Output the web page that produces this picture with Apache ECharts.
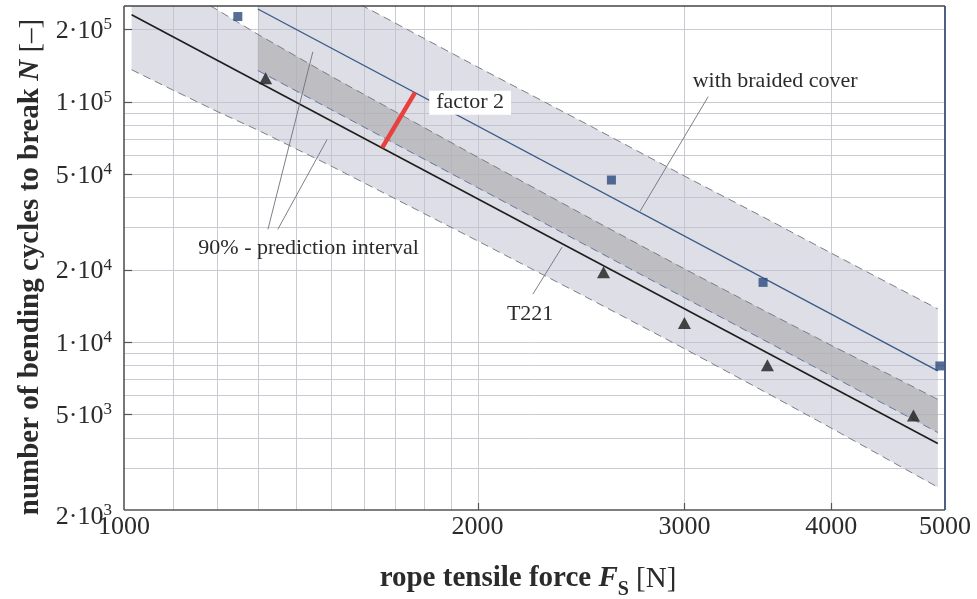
<!DOCTYPE html>
<html>
<head>
<meta charset="utf-8">
<script src="https://cdn.jsdelivr.net/npm/echarts@6/dist/echarts.min.js"></script>
<style>
  html, body { margin: 0; padding: 0; background: #fff; }
  #chart { width: 977px; height: 599px; }
</style>
</head>
<body>
<div id="chart"></div>
<script>
// measured points
const t221Force = [1320, 2560, 3000, 3530, 4700];
const t221Cycles = [125000, 19500, 12000, 8000, 4950];
const coverForce = [1250, 2600, 3500, 4950];
const coverCycles = [226000, 47200, 17700, 7950];

// fitted lines (end points)
const t221Fit = [[1015, 230000], [4930, 3780]];
const coverFit = [[1300, 243000], [4930, 7580]];

// 90% prediction interval, T221
const t221BandX = [1015, 1100, 1200, 1300, 1500, 2000, 2500, 3000, 3500, 4000, 4500, 4930];
const t221Upper = [388200, 308200, 241300, 190600, 127700, 58800, 32480, 20150, 13580, 9690, 7250, 5770];
const t221Lower = [135800, 111900, 91070, 76150, 54050, 26350, 14980, 9380, 6260, 4385, 3187, 2490];

// 90% prediction interval, with braided cover
const coverBandX = [1300, 1500, 2000, 2500, 3000, 3500, 4000, 4930];
const coverUpper = [432200, 294900, 139400, 78800, 49030, 33140, 23430, 13730];
const coverLower = [134800, 92830, 43880, 24580, 15290, 10230, 7235, 4200];

// "factor 2" marker
const factorLine = [[1659, 64400], [1769, 109000]];

// axes
const xTicks = [1000, 2000, 3000, 4000, 5000];
const yTicks = [2000, 5000, 10000, 20000, 50000, 100000, 200000];
const xGrid = [1100, 1200, 1300, 1400, 1500, 1600, 1700, 1800, 1900, 2000, 3000, 4000];
const yGrid = [3000, 4000, 5000, 6000, 7000, 8000, 9000,
  10000, 20000, 30000, 40000, 50000, 60000, 70000, 80000, 90000, 100000, 200000];

// annotations
const noteText = ['with braided cover', '90% - prediction interval', 'T221', 'factor 2'];
const noteAt = [[3584, 121100], [1436, 24550], [2217, 13070], [1971, 99050]];
const leaders = [
  [[3143, 104900], [2750, 34970]],
  [[1326, 29430], [1448, 161200]],
  [[1352, 29430], [1489, 69560]],
  [[2229, 15820], [2360, 24790]]
];

const X_MIN = 1000, X_MAX = 5000, Y_MIN = 2000, Y_MAX = 250000;
const FONT = '"Liberation Serif", "Times New Roman", serif';
const TXT = '#2b2b2b';

const pairs = (xs, ys) => xs.map((x, i) => [x, ys[i]]);
const px = v => Math.round(v) + 0.5;

// where the two intervals overlap: top = T221 upper, bottom = cover lower
const overlapUpper = coverBandX.map(x => t221Upper[t221BandX.indexOf(x)]);

function rectOf(cs) {
  return { x: cs.x, y: cs.y, width: cs.width, height: cs.height };
}

function renderGrid(params, api) {
  const cs = params.coordSys;
  const els = [];
  xGrid.forEach(v => {
    const x = px(api.coord([v, Y_MIN])[0]);
    els.push({ type: 'line', shape: { x1: x, y1: cs.y, x2: x, y2: cs.y + cs.height },
      style: { stroke: '#c9cad2', lineWidth: 1 } });
  });
  yGrid.forEach(v => {
    const y = px(api.coord([X_MIN, v])[1]);
    els.push({ type: 'line', shape: { x1: cs.x, y1: y, x2: cs.x + cs.width, y2: y },
      style: { stroke: '#c9cad2', lineWidth: 1 } });
  });
  return { type: 'group', children: els };
}

function renderBand(xs, ups, lows, fill) {
  return function (params, api) {
    const pts = xs.map((x, i) => api.coord([x, ups[i]]));
    for (let i = xs.length - 1; i >= 0; i--) pts.push(api.coord([xs[i], lows[i]]));
    return {
      type: 'polygon',
      shape: { points: pts },
      style: { fill: fill },
      clipPath: { type: 'rect', shape: rectOf(params.coordSys) }
    };
  };
}

function renderFrame(params, api) {
  const cs = params.coordSys;
  const l = cs.x, r = cs.x + cs.width, t = cs.y, b = cs.y + cs.height;
  const els = [];
  // inner ticks
  xTicks.slice(1, -1).forEach(v => {
    const x = px(api.coord([v, Y_MIN])[0]);
    els.push({ type: 'line', shape: { x1: x, y1: b, x2: x, y2: b - 7 }, style: { stroke: '#555', lineWidth: 1.2 } });
  });
  yTicks.slice(1).forEach(v => {
    const y = px(api.coord([X_MIN, v])[1]);
    els.push({ type: 'line', shape: { x1: l, y1: y, x2: l + 8, y2: y }, style: { stroke: '#555', lineWidth: 1.2 } });
  });
  els.push({ type: 'line', shape: { x1: l, y1: t, x2: r, y2: t }, style: { stroke: '#444', lineWidth: 1.6 } });
  els.push({ type: 'line', shape: { x1: r, y1: t, x2: r, y2: b }, style: { stroke: '#3c4f78', lineWidth: 1.8 } });
  els.push({ type: 'line', shape: { x1: l, y1: b, x2: r, y2: b }, style: { stroke: '#555', lineWidth: 1.6 } });
  els.push({ type: 'line', shape: { x1: l, y1: t, x2: l, y2: b }, style: { stroke: '#555', lineWidth: 1.6 } });

  // tick labels
  xTicks.forEach(v => {
    const p = api.coord([v, Y_MIN]);
    els.push({ type: 'text', x: p[0], y: b + 17,
      style: { text: String(v), fontFamily: FONT, fontSize: 26, fill: TXT, align: 'center', verticalAlign: 'middle' } });
  });
  yTicks.forEach(v => {
    const e = Math.floor(Math.log10(v) + 1e-9);
    const m = Math.round(v / Math.pow(10, e));
    const p = api.coord([X_MIN, v]);
    els.push({ type: 'text', x: l - 12, y: p[1] + (v === Y_MIN ? 7 : 2),
      style: {
        text: '{m|' + m + '·10}{e|' + e + '}',
        align: 'right', verticalAlign: 'middle', fill: TXT,
        rich: {
          m: { fontFamily: FONT, fontSize: 26, lineHeight: 30, fill: TXT, verticalAlign: 'middle' },
          e: { fontFamily: FONT, fontSize: 17, lineHeight: 30, fill: TXT, verticalAlign: 'top' }
        }
      } });
  });
  return { type: 'group', children: els };
}

function renderNotes(params, api) {
  const els = [];
  leaders.forEach(seg => {
    const a = api.coord(seg[0]), b = api.coord(seg[1]);
    els.push({ type: 'line', shape: { x1: a[0], y1: a[1], x2: b[0], y2: b[1] },
      style: { stroke: '#707078', lineWidth: 0.9 } });
  });
  noteText.forEach((t, i) => {
    const p = api.coord(noteAt[i]);
    const boxed = t === 'factor 2';
    els.push({ type: 'text', x: p[0], y: p[1],
      style: {
        text: t, fontFamily: FONT, fontSize: 22, fill: TXT,
        align: 'center', verticalAlign: 'middle',
        backgroundColor: boxed ? '#fff' : 'transparent',
        padding: boxed ? [2, 7, 0, 7] : 0
      } });
  });
  return { type: 'group', children: els };
}

const anchor = [[X_MIN, Y_MIN]];
const dashed = (name, data, color) => ({
  name: name, type: 'line', data: data, symbol: 'none', silent: true, z: 4,
  lineStyle: { color: color, width: 1, type: [8, 5] }
});

const BAND = 'rgba(191,192,208,0.53)';

const option = {
  animation: false,
  backgroundColor: '#fff',
  grid: { left: 124, right: 32, top: 6, bottom: 89 },
  xAxis: {
    type: 'log', logBase: 10, min: X_MIN, max: X_MAX,
    axisLine: { show: false }, axisTick: { show: false },
    axisLabel: { show: false }, splitLine: { show: false }
  },
  yAxis: {
    type: 'log', logBase: 10, min: Y_MIN, max: Y_MAX,
    axisLine: { show: false }, axisTick: { show: false },
    axisLabel: { show: false }, splitLine: { show: false }
  },
  graphic: [
    {
      type: 'text', x: 31, y: 267, rotation: Math.PI / 2,
      style: {
        text: '{b|number of bending cycles to break }{i|N}{n| [–]}',
        align: 'center', verticalAlign: 'middle', fill: TXT,
        rich: {
          b: { fontFamily: FONT, fontSize: 29, fontWeight: 'bold', fill: TXT },
          i: { fontFamily: FONT, fontSize: 29, fontWeight: 'bold', fontStyle: 'italic', fill: TXT },
          n: { fontFamily: FONT, fontSize: 29, fill: TXT }
        }
      }
    },
    {
      type: 'text', x: 528, y: 579,
      style: {
        text: '{b|rope tensile force }{i|F}{s|S}{n| [N]}',
        align: 'center', verticalAlign: 'middle', fill: TXT,
        rich: {
          b: { fontFamily: FONT, fontSize: 29, fontWeight: 'bold', lineHeight: 32, fill: TXT, verticalAlign: 'middle' },
          i: { fontFamily: FONT, fontSize: 29, fontWeight: 'bold', fontStyle: 'italic', lineHeight: 32, fill: TXT, verticalAlign: 'middle' },
          s: { fontFamily: FONT, fontSize: 20, fontWeight: 'bold', lineHeight: 42, fill: TXT, verticalAlign: 'bottom' },
          n: { fontFamily: FONT, fontSize: 29, lineHeight: 32, fill: TXT, verticalAlign: 'middle' }
        }
      }
    }
  ],
  series: [
    { type: 'custom', name: 'grid', data: anchor, renderItem: renderGrid, silent: true, z: 1 },
    { type: 'custom', name: 'band T221', data: anchor, silent: true, z: 2,
      renderItem: renderBand(t221BandX, t221Upper, t221Lower, BAND) },
    { type: 'custom', name: 'band cover', data: anchor, silent: true, z: 2,
      renderItem: renderBand(coverBandX, coverUpper, coverLower, BAND) },
    { type: 'custom', name: 'band overlap', data: anchor, silent: true, z: 3,
      renderItem: renderBand(coverBandX, overlapUpper, coverLower, 'rgba(160,160,152,0.36)') },
    dashed('T221 upper', pairs(t221BandX, t221Upper), '#7c7d86'),
    dashed('T221 lower', pairs(t221BandX, t221Lower), '#7c7d86'),
    dashed('cover upper', pairs(coverBandX, coverUpper), '#7c7d86'),
    dashed('cover lower', pairs(coverBandX, coverLower), '#6478a0'),
    { type: 'line', name: 'T221 fit', data: t221Fit, symbol: 'none', silent: true, z: 5,
      lineStyle: { color: '#1e1e1e', width: 1.6 } },
    { type: 'line', name: 'cover fit', data: coverFit, symbol: 'none', silent: true, z: 5,
      lineStyle: { color: '#385888', width: 1.3 } },
    { type: 'line', name: 'factor 2', data: factorLine, symbol: 'none', silent: true, z: 6,
      lineStyle: { color: '#e8403c', width: 4.5 } },
    { type: 'custom', name: 'notes', data: anchor, renderItem: renderNotes, silent: true, z: 7 },
    { type: 'scatter', name: 'T221', data: pairs(t221Force, t221Cycles), symbol: 'triangle',
      symbolSize: [13, 12], itemStyle: { color: '#1c1c1c' }, silent: true, z: 8 },
    { type: 'scatter', name: 'with braided cover', data: pairs(coverForce, coverCycles), symbol: 'rect',
      symbolSize: 9, itemStyle: { color: '#2a4a7e' }, silent: true, z: 8 },
    { type: 'custom', name: 'frame', data: anchor, renderItem: renderFrame, silent: true, z: 9 }
  ]
};

const chart = echarts.init(document.getElementById('chart'));
chart.setOption(option);
</script>
</body>
</html>
